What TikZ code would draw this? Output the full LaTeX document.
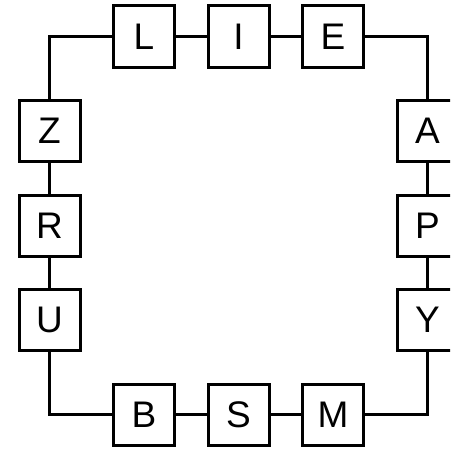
\documentclass[tikz,border=0pt]{standalone}
\usepackage{fontspec}
\setmainfont{Liberation Sans}
\begin{document}
\begin{tikzpicture}[x=1pt,y=-1pt,
  letterbox/.style={draw=black,line width=3pt,fill=white,minimum size=61pt,inner sep=0pt,font=\fontsize{37}{40}\selectfont},
  link/.style={draw=black,line width=3pt}]
\useasboundingbox (0,0) rectangle (450,452);
\begin{scope}
\clip (0,0) rectangle (450,452);
\def\ca{49.5}\def\cb{144}\def\cc{238.5}\def\cd{333}\def\ce{427.5}
\def\ra{36.5}\def\rb{131}\def\rc{225.5}\def\rd{320}\def\re{414.5}
\node[letterbox] (L) at (\cb,\ra) {L};
\node[letterbox] (I) at (\cc,\ra) {I};
\node[letterbox] (E) at (\cd,\ra) {E};
\node[letterbox] (A) at (\ce,\rb) {A};
\node[letterbox] (P) at (\ce,\rc) {P};
\node[letterbox] (Y) at (\ce,\rd) {Y};
\node[letterbox] (M) at (\cd,\re) {M};
\node[letterbox] (S) at (\cc,\re) {S};
\node[letterbox] (B) at (\cb,\re) {B};
\node[letterbox] (U) at (\ca,\rd) {U};
\node[letterbox] (R) at (\ca,\rc) {R};
\node[letterbox] (Z) at (\ca,\rb) {Z};
\draw[link] (L) -- (I);
\draw[link] (I) -- (E);
\draw[link] (E) -| (A);
\draw[link] (A) -- (P);
\draw[link] (P) -- (Y);
\draw[link] (Y) |- (M);
\draw[link] (M) -- (S);
\draw[link] (S) -- (B);
\draw[link] (B) -| (U);
\draw[link] (U) -- (R);
\draw[link] (R) -- (Z);
\draw[link] (Z) |- (L);
\end{scope}
\end{tikzpicture}
\end{document}
